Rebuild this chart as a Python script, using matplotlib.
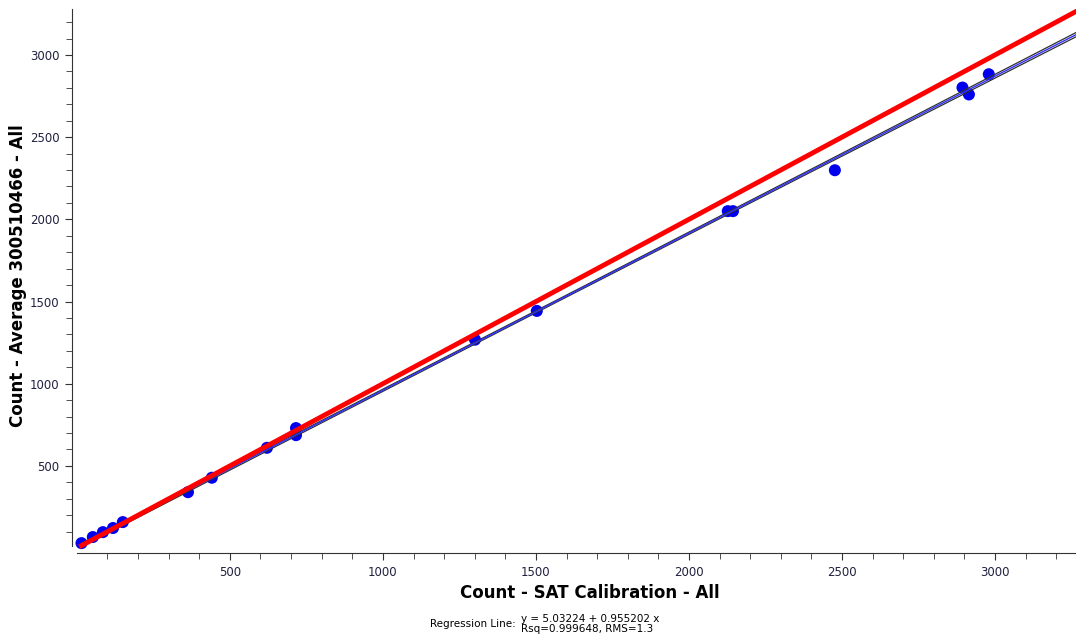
import numpy as np    # 数组操作
from matplotlib import pyplot as plt    # 绘图操作
from matplotlib.ticker import FixedLocator    # 刻度定位

# 数据点
satCount = [15, 52, 85, 118, 150, 363, 441, 621, 716, 716, 1301, 1503,
            2127, 2144, 2477, 2894, 2915, 2980]
avgCount = [30, 67, 97, 122, 158, 340, 428, 610, 730, 687, 1268, 1443,
            2050, 2050, 2299, 2802, 2760, 2883]

# 回归线参数
intercept = 5.03224
slope = 0.955202
lineX = [15, 3265]
bandX = [15, 800, 1600, 2400, 3265]
bandHalf = [10, 7, 6, 8, 13]    # 置信带半宽

xTicks = [500, 1000, 1500, 2000, 2500, 3000]
yTicks = [500, 1000, 1500, 2000, 2500, 3000]

plt.rcParams['font.family'] = ['DejaVu Sans']

fig = plt.figure(figsize=(10.76, 6.41), dpi=100)
ax = fig.add_axes([72 / 1076, 1 - 553 / 641, (1076 - 72) / 1076, (553 - 9) / 641])
ax.set_xlim(-16, 3265)
ax.set_ylim(-30, 3280)

ax.scatter(satCount, avgCount, s=75, color='#0000ee', edgecolors='none', zorder=2)

bx = np.array(bandX)
by = intercept + slope * bx
ax.plot(bx, by + np.array(bandHalf), color='#303030', lw=0.9, zorder=3)
ax.plot(bx, by - np.array(bandHalf), color='#303030', lw=0.9, zorder=3)
lx = np.array(lineX)
ax.plot(lx, intercept + slope * lx, color='#3030ff', lw=1.0, zorder=4)
ax.plot(lx, lx, color='#ff0000', lw=3.5, zorder=5)    # y = x

for side in ['top', 'right']:
    ax.spines[side].set_visible(False)
ax.spines['bottom'].set_bounds(0, 3265)
ax.spines['left'].set_bounds(15, 3280)
ax.spines['bottom'].set_color('#333333')
ax.spines['left'].set_color('#333333')

ax.xaxis.set_major_locator(FixedLocator(xTicks))
ax.yaxis.set_major_locator(FixedLocator(yTicks))
ax.xaxis.set_minor_locator(FixedLocator([v for v in range(100, 3300, 100) if v % 500]))
ax.yaxis.set_minor_locator(FixedLocator([v for v in range(100, 3300, 100) if v % 500]))
ax.tick_params(which='major', length=5, color='#333333', labelsize=8.5, labelcolor='#202040', pad=4)
ax.tick_params(which='minor', length=4, color='#333333')

ax.set_xlabel('Count - SAT Calibration - All', fontsize=12, fontweight='bold')
ax.set_ylabel('Count - Average 300510466 - All', fontsize=12, fontweight='bold')
ax.xaxis.set_label_coords(0.516, -(593 - 553) / 544, transform=ax.transAxes)
ax.yaxis.set_label_coords(-(72 - 18) / 1004, (553 - 276) / 544, transform=ax.transAxes)
ax.xaxis.label.set_va('center')
ax.yaxis.label.set_va('center')

fig.text(516 / 1076, 1 - 624 / 641, 'Regression Line:', fontsize=7.5, ha='right', va='center')
fig.text(521 / 1076, 1 - 624 / 641, 'y = 5.03224 + 0.955202 x\nRsq=0.999648, RMS=1.3',
         fontsize=7.5, ha='left', va='center', linespacing=1.1)

fig.savefig('out.png', dpi=100)
